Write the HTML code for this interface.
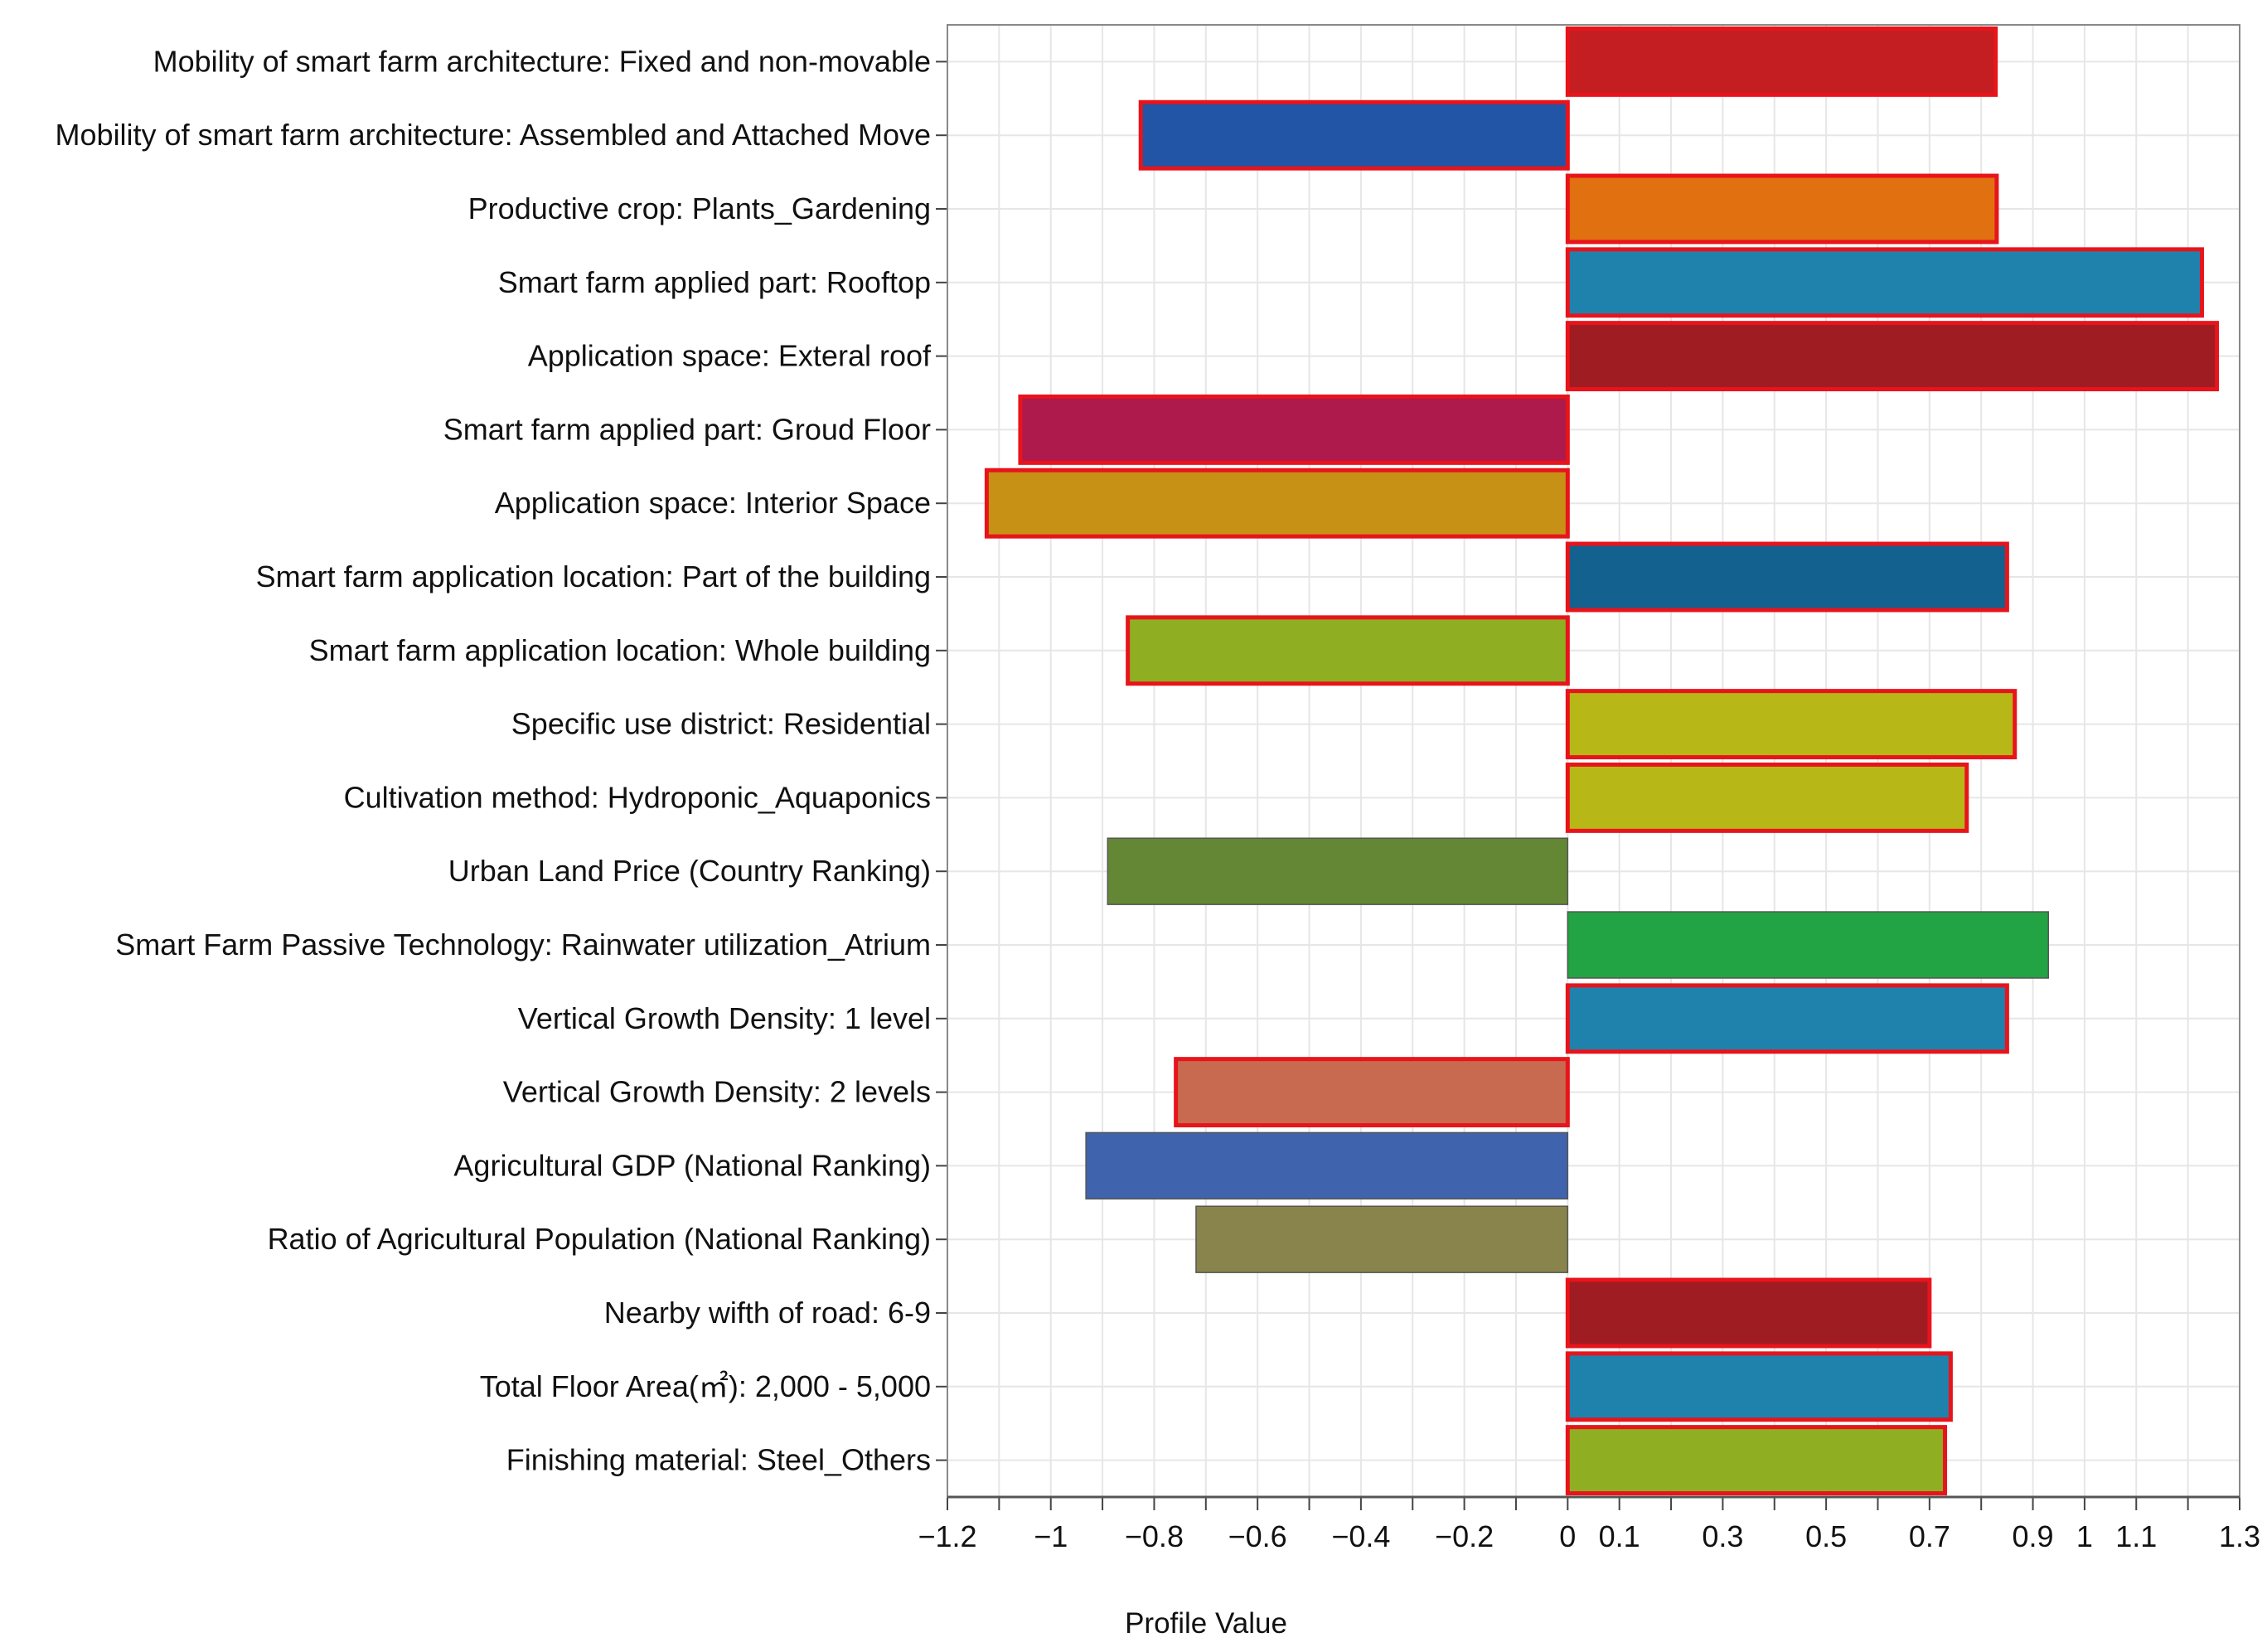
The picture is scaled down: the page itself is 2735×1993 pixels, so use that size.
<!DOCTYPE html>
<html><head><meta charset="utf-8"><style>
html,body{margin:0;padding:0;background:#fff;}
svg{display:block;font-family:"Liberation Sans","Noto Sans CJK KR",sans-serif;}
</style></head><body>
<svg id="chart" width="2735" height="1993" viewBox="0 0 2735 1993" xmlns="http://www.w3.org/2000/svg"></svg>
<script>
const categories = [
"Mobility of smart farm architecture: Fixed and non-movable",
"Mobility of smart farm architecture: Assembled and Attached Move",
"Productive crop: Plants_Gardening",
"Smart farm applied part: Rooftop",
"Application space: Exteral roof",
"Smart farm applied part: Groud Floor",
"Application space: Interior Space",
"Smart farm application location: Part of the building",
"Smart farm application location: Whole building",
"Specific use district: Residential",
"Cultivation method: Hydroponic_Aquaponics",
"Urban Land Price (Country Ranking)",
"Smart Farm Passive Technology: Rainwater utilization_Atrium",
"Vertical Growth Density: 1 level",
"Vertical Growth Density: 2 levels",
"Agricultural GDP (National Ranking)",
"Ratio of Agricultural Population (National Ranking)",
"Nearby wifth of road: 6-9",
"Total Floor Area(\u33A1): 2,000 - 5,000",
"Finishing material: Steel_Others"];
const values = [0.828,-0.826,0.83,1.227,1.256,-1.059,-1.124,0.85,-0.851,0.865,0.772,-0.89,0.93,0.85,-0.758,-0.932,-0.719,0.70,0.741,0.73];
const highlighted = [1,1,1,1,1,1,1,1,1,1,1,0,0,1,1,0,0,1,1,1];
const colors = ["#c41e22","#2255a5","#e07010","#1f82ad","#9e1c22","#ae1a4c","#c79116","#13618f","#8fae22","#b7b718","#b7b718","#638734","#22a444","#1f82ad","#c76a50","#3f63ad","#88844c","#9e1c22","#1f82ad","#8fae22"];
const tickLabels = ["-1.2","-1","-0.8","-0.6","-0.4","-0.2","0","0.1","0.3","0.5","0.7","0.9","1","1.1","1.3"];

const svg = document.getElementById('chart');
const NS = "http://www.w3.org/2000/svg";
const L=1143, R=2702, T=30, B=1806, xmin=-1.2, xmax=1.3;
const x = v => L + (v - xmin) / (xmax - xmin) * (R - L);
const band = (B - T) / categories.length;
const yc = i => T + band * (i + 0.5);
function mk(tag, attrs){const e=document.createElementNS(NS,tag);for(const k in attrs)e.setAttribute(k,attrs[k]);svg.appendChild(e);return e;}

for(let k=0;k<=25;k++){
  const v = xmin + k*0.1;
  const g = mk('line',{x1:x(v),x2:x(v),y1:T,y2:B,stroke:'#e6e6e6','stroke-width':2});
  
  
  const t = mk('line',{x1:x(v),x2:x(v),y1:B,y2:B+16,stroke:'#444','stroke-width':2});
  
  
}
categories.forEach((c,i)=>{
  const g = mk('line',{x1:L,x2:R,y1:yc(i),y2:yc(i),stroke:'#e6e6e6','stroke-width':2});
  
  
  const t = mk('line',{x1:L-14,x2:L,y1:yc(i),y2:yc(i),stroke:'#444','stroke-width':2});
  
  
  const tx = mk('text',{x:L-20,y:yc(i)+12,'text-anchor':'end','font-size':36,fill:'#111'});
  tx.textContent = c;
  
  
});
values.forEach((v,i)=>{
  const x0 = x(Math.min(0,v)), x1 = x(Math.max(0,v));
  const h = band*0.9;
  const r = mk('rect',{x:x0,y:yc(i)-h/2,width:x1-x0,height:h,fill:colors[i],
    stroke: highlighted[i] ? '#e8141b' : '#555', 'stroke-width': highlighted[i] ? 5 : 1.5});
  
  
});
const fr = mk('rect',{x:L,y:T,width:R-L,height:B-T,fill:'none',stroke:'#888','stroke-width':2});


const ax = mk('line',{x1:L,x2:R,y1:B,y2:B,stroke:'#555','stroke-width':3});


tickLabels.forEach(s=>{
  const t = mk('text',{x:x(parseFloat(s)),y:B+60,'text-anchor':'middle','font-size':36,fill:'#111'});
  t.textContent = s.replace('-','\u2212');
  
  
});
const xt = mk('text',{x:1455,y:1970,'text-anchor':'middle','font-size':35,fill:'#111'});
xt.textContent = 'Profile Value';


</script>
</body></html>
